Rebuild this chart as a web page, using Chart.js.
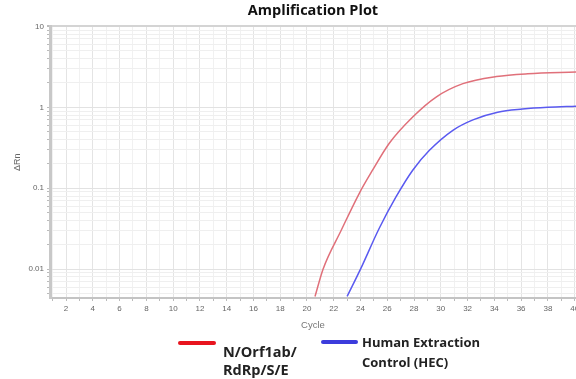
<!DOCTYPE html>
<html>
<head>
<meta charset="utf-8">
<script src="https://cdn.jsdelivr.net/npm/chart.js@4.4.0/dist/chart.umd.min.js"></script>
<style>
  body { margin: 0; background: #fff; width: 576px; height: 379px; overflow: hidden; font-family: "Open Sans", "DejaVu Sans", sans-serif; }
  #wrap { position: relative; width: 576px; height: 335px; }
  .leg { position: absolute; font-weight: bold; color: #222; white-space: nowrap; }
  .swatch { position: absolute; height: 4px; border-radius: 2px; }
</style>
</head>
<body>
<div id="wrap"><canvas id="plot" width="576" height="335"></canvas></div>
<div class="swatch" style="left:178px;top:341px;width:38px;background:#e8141e"></div>
<div class="leg" style="left:223px;top:343px;font-size:14.5px;line-height:18px">N/Orf1ab/<br>RdRp/S/E</div>
<div class="swatch" style="left:321px;top:340px;width:37px;background:#3c3cdc"></div>
<div class="leg" style="left:362px;top:332px;font-size:13px;line-height:20px">Human Extraction<br>Control (HEC)</div>
<script>
// cycle / ΔRn
const redCycles = [20.6, 21.2, 22.55, 23.9, 24.9, 26.15, 27.9, 29.65, 31.65, 34.15, 36.5, 40.1];
const redValues = [0.0046, 0.01, 0.03, 0.086, 0.167, 0.36, 0.76, 1.34, 1.96, 2.4, 2.6, 2.73];
const blueCycles = [23.0, 24.0, 25.4, 26.65, 27.9, 29.15, 30.9, 32.4, 34.25, 36.1, 38.0, 40.1];
const blueValues = [0.0046, 0.01, 0.032, 0.078, 0.167, 0.294, 0.52, 0.7, 0.87, 0.95, 1.0, 1.03];
const xTicks = [2, 4, 6, 8, 10, 12, 14, 16, 18, 20, 22, 24, 26, 28, 30, 32, 34, 36, 38, 40];
const yTicks = [0.01, 0.1, 1, 10];

const pts = (xs, ys) => xs.map((x, i) => ({ x: x, y: ys[i] }));

new Chart(document.getElementById('plot'), {
  type: 'line',
  data: {
    datasets: [
      { data: pts(redCycles, redValues), borderColor: '#e0707a', borderWidth: 1.5, pointRadius: 0, cubicInterpolationMode: 'monotone' },
      { data: pts(blueCycles, blueValues), borderColor: '#5a5af0', borderWidth: 1.5, pointRadius: 0, cubicInterpolationMode: 'monotone' }
    ]
  },
  options: {
    responsive: false,
    animation: false,
    layout: { padding: 0 },
    plugins: {
      legend: { display: false },
      tooltip: { enabled: false },
      title: { display: true, fullSize: false, text: 'Amplification Plot', color: '#111', font: { family: 'Open Sans', size: 14.5, weight: 'bold' }, padding: { top: 2, bottom: 7 } }
    },
    scales: {
      x: {
        type: 'linear', min: 0.8, max: 40.1,
        afterBuildTicks: s => { s.ticks = []; for (let c = 1; c <= 40; c++) s.ticks.push({ value: c }); },
        ticks: { autoSkip: false, maxRotation: 0, color: '#666', font: { size: 8 }, padding: 3,
          callback: v => xTicks.includes(v) ? String(v) : '' },
        grid: { color: ctx => ctx.tick && ctx.tick.value % 2 === 0 ? '#e4e4e4' : '#f1f1f1', tickLength: 3, tickColor: '#bbb' },
        border: { color: '#c4c4c4', width: 2 },
        title: { display: true, text: 'Cycle', color: '#777', font: { size: 9.5 }, padding: { top: 2 } },
        afterFit: s => { s.height = 37; s.paddingLeft = 0; s.paddingRight = 0; }
      },
      y: {
        type: 'logarithmic', min: 0.0044, max: 10,
        afterBuildTicks: s => {
          s.ticks = [];
          for (let d = 0.001; d < 10; d *= 10)
            for (let k = 1; k <= 9; k++) { const v = +(d * k).toPrecision(3); if (v >= 0.0044 && v <= 10) s.ticks.push({ value: v }); }
          s.ticks.push({ value: 10 });
        },
        ticks: { autoSkip: false, color: '#666', font: { size: 8 }, padding: 3,
          callback: v => yTicks.includes(v) ? String(v) : '' },
        grid: {
          color: ctx => !ctx.tick ? '#efefef' : ctx.tick.value === 10 ? '#d4d4d4' : yTicks.includes(ctx.tick.value) ? '#e2e2e2' : '#efefef',
          lineWidth: ctx => ctx.tick && ctx.tick.value === 10 ? 2 : 1,
          tickLength: 3, tickColor: '#bbb'
        },
        border: { color: '#c8c8c8', width: 3 },
        title: { display: true, text: 'ΔRn', color: '#666', font: { size: 9 }, padding: { top: 12, bottom: 0 } },
        afterFit: s => { s.width = 50; s.paddingTop = 0; s.paddingBottom = 0; }
      }
    }
  }
});
</script>
</body>
</html>
